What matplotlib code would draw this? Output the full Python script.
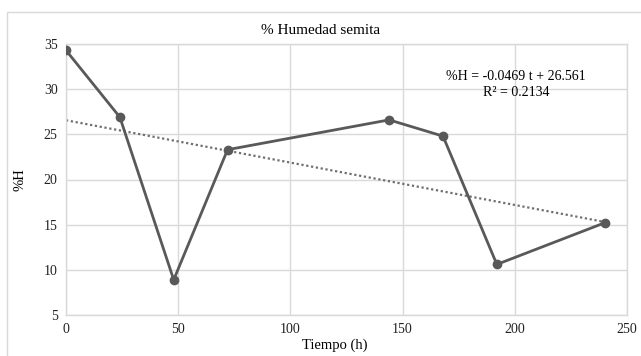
import matplotlib
matplotlib.use("Agg")
import matplotlib.pyplot as plt
from matplotlib.patches import Rectangle
import numpy as np

plt.rcParams['font.family'] = ['Liberation Serif', 'DejaVu Serif']

tiempo = [0, 24, 48, 72, 144, 168, 192, 240]
humedad = [34.3, 26.9, 8.9, 23.3, 26.6, 24.8, 10.6, 15.2]
slope, intercept = -0.0469, 26.561
r2 = 0.2134
xticks = [0, 50, 100, 150, 200, 250]
yticks = [5, 10, 15, 20, 25, 30, 35]

fig = plt.figure(figsize=(6.41, 3.56), dpi=100)
ax = fig.add_axes([66/641, 1-315/356, (627-66)/641, (315-44)/356])

line_c = '#595959'
grid_c = '#d9d9d9'

tx = np.array([0, 240])
ax.plot(tx, slope*tx + intercept, color='#6f6f6f', lw=1.6, ls=(0, (1, 1.2)), zorder=2)
ax.plot(tiempo, humedad, color=line_c, lw=2, marker='o', ms=6, zorder=3)

ax.set_xlim(0, 250)
ax.set_ylim(5, 35)
ax.set_xticks(xticks)
ax.set_yticks(yticks)
ax.grid(True, color=grid_c, lw=1)
ax.set_axisbelow(True)
for s in ax.spines.values():
    s.set_color(grid_c)
    s.set_linewidth(1)
ax.tick_params(length=0, labelsize=10, colors='#222222', pad=6)

fig.text(0.5, 1-31/356, '% Humedad semita', ha='center', va='center', fontsize=11)
fig.text(335/641, 1-345/356, 'Tiempo (h)', ha='center', va='center', fontsize=10.5)
fig.text(20/641, 1-180/356, '%H', ha='center', va='center', rotation=90, fontsize=10.5)
fig.text(516/641, 1-77/356, f'%H = {slope} t + {intercept}', ha='center', va='center', fontsize=10)
fig.text(516/641, 1-93/356, f'R² = {r2}', ha='center', va='center', fontsize=10)

fig.patches.append(Rectangle((7/641, -0.05), 1.0, 1-12/356+0.05, transform=fig.transFigure,
                             fill=False, edgecolor='#d9d9d9', lw=1))

fig.savefig('out.png', dpi=100)
